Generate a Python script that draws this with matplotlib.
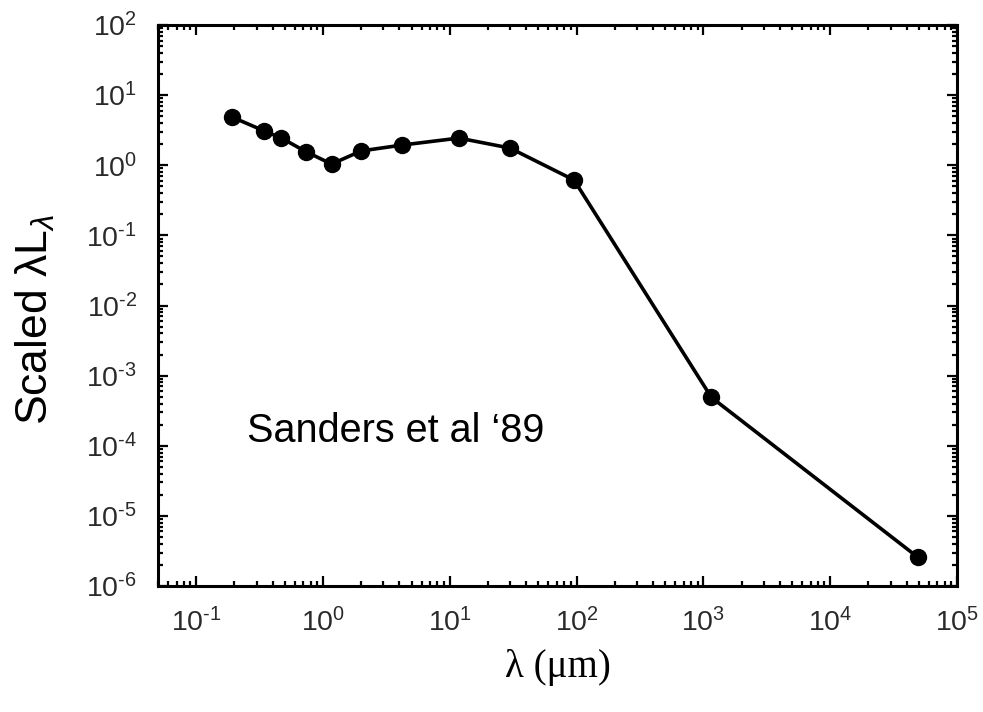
import math
import matplotlib
matplotlib.use("Agg")
import matplotlib.pyplot as plt
from matplotlib.ticker import LogLocator, FuncFormatter, NullFormatter

# Sanders et al 1989 mean quasar SED
wavelength = [0.19, 0.345, 0.47, 0.74, 1.17, 2.0, 4.2, 11.8, 29.8, 95.5, 1156, 4.9e4]
scaled_lum = [4.9, 3.08, 2.44, 1.55, 1.04, 1.6, 1.94, 2.44, 1.76, 0.615, 4.9e-4, 2.58e-6]

plt.rcParams['font.family'] = ['Liberation Sans', 'DejaVu Sans']
plt.rcParams['mathtext.fontset'] = 'custom'
plt.rcParams['mathtext.rm'] = 'Liberation Sans'
plt.rcParams['mathtext.it'] = 'Liberation Sans:italic'

fig = plt.figure(figsize=(9.83, 7.12), dpi=100)
ax = fig.add_axes([158 / 983, 1 - 586 / 712, (957 - 158) / 983, (586 - 25) / 712])

ax.plot(wavelength, scaled_lum, color='black', lw=2.6, marker='o', ms=11.5)
ax.set_xscale('log')
ax.set_yscale('log')
ax.set_xlim(0.05, 1e5)
ax.set_ylim(1e-6, 1e2)


def pow_label(v, pos):
    e = round(math.log10(v))
    s = str(e).replace('-', r'\text{-}')
    return r'$\mathregular{10^{%s}}$' % s


for axis in (ax.xaxis, ax.yaxis):
    axis.set_major_locator(LogLocator(base=10, numticks=20))
    axis.set_minor_locator(LogLocator(base=10, subs=range(2, 10), numticks=20))
    axis.set_major_formatter(FuncFormatter(pow_label))
    axis.set_minor_formatter(NullFormatter())

ax.tick_params(which='both', direction='in', top=True, right=True, width=1.6,
               labelsize=20.5, labelcolor='#2a2a2a')
ax.tick_params(which='major', length=7)
ax.tick_params(which='minor', length=3.5)
ax.tick_params(axis='x', pad=16)
ax.tick_params(axis='y', pad=15)
for s in ax.spines.values():
    s.set_linewidth(2.2)

ax.set_ylabel('Scaled \u03bbL$_\u03bb$', fontsize=32)
ax.yaxis.set_label_coords(-0.126, 0.475)
ax.set_xlabel('\u03bb (\u03bcm)', fontsize=28, family=['Liberation Serif', 'DejaVu Serif'],
              labelpad=8)
ax.text(0.112, 0.257, 'Sanders et al \u201889', transform=ax.transAxes, fontsize=28.5)

fig.savefig('out.png', dpi=100)
